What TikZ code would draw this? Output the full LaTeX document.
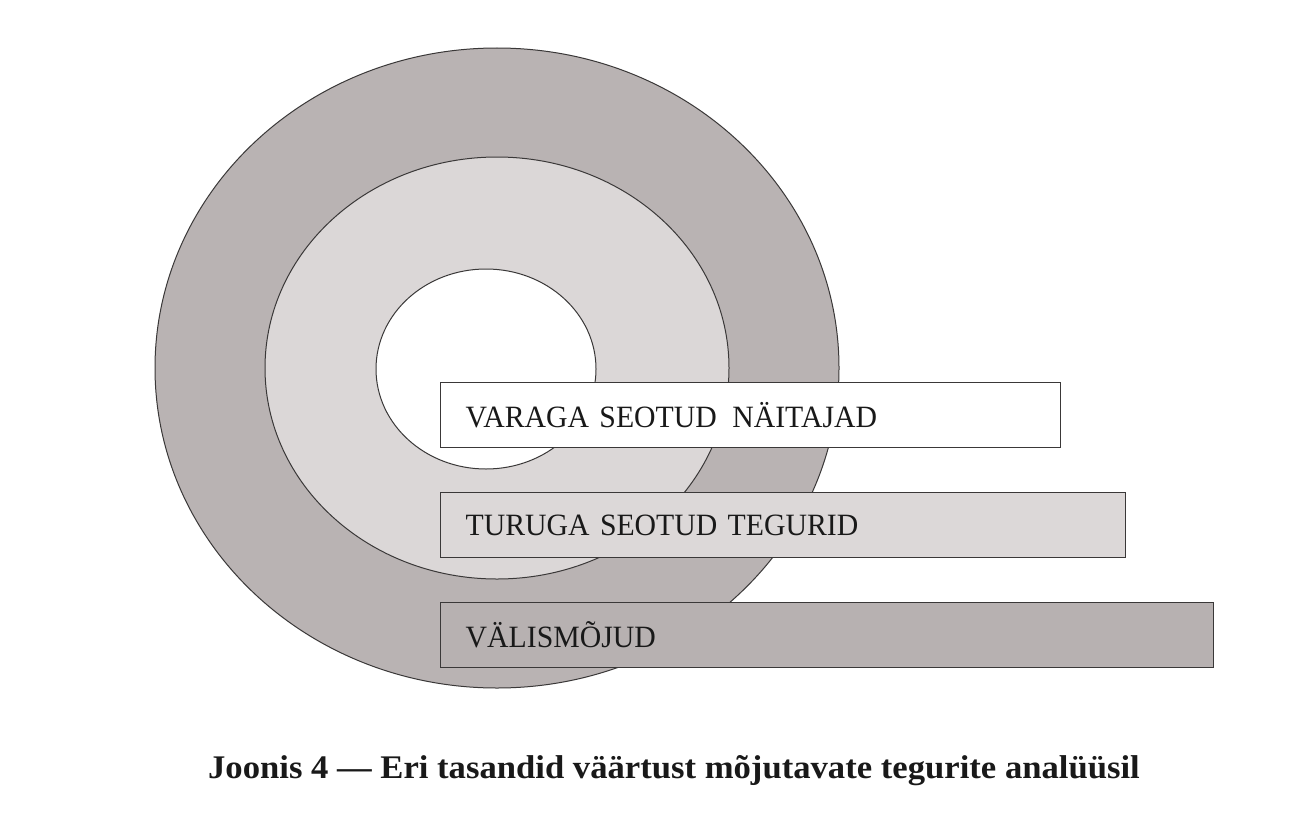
\documentclass[tikz,border=0pt]{standalone}
\usepackage{fontspec}
\setmainfont{Liberation Serif}
\newfontfamily\boxfont{Liberation Serif}[FakeStretch=0.96]
\newfontfamily\capfont{Liberation Serif}[FakeStretch=1.05]
\definecolor{ringout}{HTML}{B9B3B3}
\definecolor{ringmid}{HTML}{DBD7D7}
\definecolor{boxmid}{HTML}{DCD8D8}
\definecolor{boxout}{HTML}{B7B1B1}
\definecolor{edge}{HTML}{3A3838}
\tikzset{
  ring/.style={draw=edge, line width=1pt},
  levelbox/.style={draw=edge, line width=1.4pt, rectangle, anchor=north west,
    inner xsep=25pt, inner ysep=0pt, align=left, minimum height=65pt,
    font=\boxfont\fontsize{31}{34}\selectfont, text=black!90},
}
\begin{document}
\begin{tikzpicture}[x=1pt,y=-1pt]
\useasboundingbox[fill=white] (0,0) rectangle (1300,816);
% rings
\draw[ring, fill=ringout] (497,368) ellipse [x radius=342pt, y radius=320pt];
\draw[ring, fill=ringmid] (497,368) ellipse [x radius=232pt, y radius=211pt];
\draw[ring, fill=white] (486,369) ellipse [x radius=110pt, y radius=100pt];
% boxes
\node[levelbox, fill=white, text width=570pt] (b1) at (440,382) {VARAGA SEOTUD\, NÄITAJAD};
\node[levelbox, fill=boxmid, text width=635pt] (b2) at (440,492) {TURUGA SEOTUD TEGURID};
\node[levelbox, fill=boxout, text width=723pt] (b3) at (440,602) {VÄLISMÕJUD};
% caption
\node[font=\capfont\bfseries\fontsize{33}{36}\selectfont, anchor=base, text=black!90] (cap) at (674,778)
  {Joonis 4 — Eri tasandid väärtust mõjutavate tegurite analüüsil};
\end{tikzpicture}
\end{document}
